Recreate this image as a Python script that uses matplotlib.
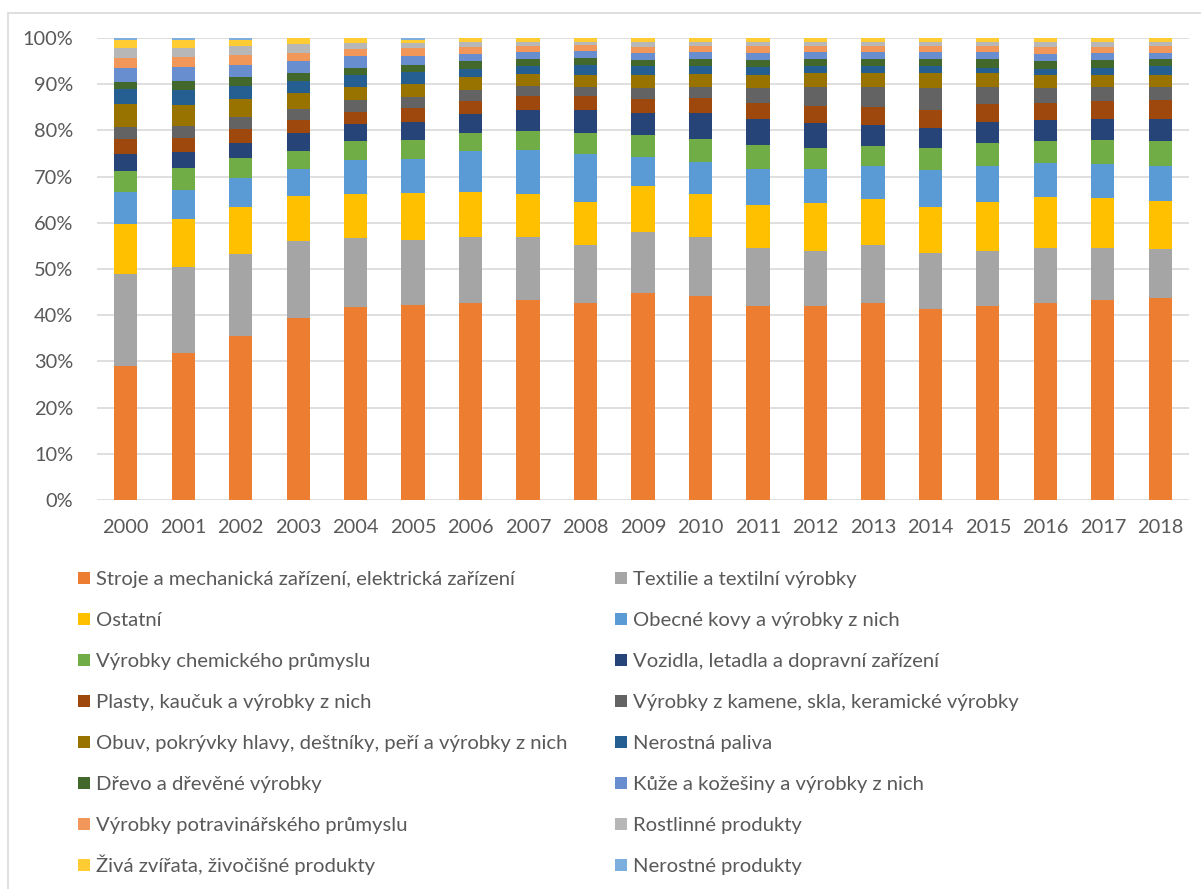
import numpy as np
import matplotlib
matplotlib.use("Agg")
import matplotlib.pyplot as plt
from matplotlib.patches import Rectangle

plt.rcParams['font.family'] = ['Lato', 'DejaVu Sans']

years = [str(y) for y in range(2000, 2019)]

# shares in %, bottom to top of each bar
stroje = [29.1, 31.8, 35.5, 39.3, 41.8, 42.2, 42.6, 43.2, 42.6, 44.7, 44.2, 42.0, 42.0, 42.6, 41.4, 42.0, 42.6, 43.2, 43.8]
textilie = [19.9, 18.6, 17.8, 16.8, 14.9, 14.1, 14.4, 13.8, 12.7, 13.3, 12.8, 12.6, 12.0, 12.5, 12.1, 12.0, 12.0, 11.4, 10.6]
ostatni = [10.8, 10.4, 10.2, 9.7, 9.5, 10.2, 9.6, 9.2, 9.2, 9.9, 9.2, 9.2, 10.3, 10.1, 9.9, 10.5, 11.0, 10.8, 10.3]
kovy = [6.8, 6.2, 6.1, 5.8, 7.5, 7.4, 9.0, 9.5, 10.3, 6.4, 7.0, 7.8, 7.3, 7.0, 8.0, 7.9, 7.3, 7.3, 7.5]
chemie = [4.6, 4.8, 4.4, 4.0, 4.1, 4.1, 3.9, 4.2, 4.6, 4.6, 4.9, 5.2, 4.6, 4.4, 4.7, 4.8, 4.7, 5.2, 5.4]
vozidla = [3.7, 3.5, 3.2, 3.9, 3.6, 3.8, 4.0, 4.5, 5.0, 4.9, 5.6, 5.6, 5.4, 4.6, 4.4, 4.6, 4.6, 4.5, 4.8]
plasty = [3.3, 3.1, 3.1, 2.7, 2.6, 3.1, 2.9, 3.0, 3.0, 3.0, 3.3, 3.6, 3.7, 3.9, 3.9, 3.9, 3.8, 4.0, 4.2]
kamen = [2.6, 2.6, 2.7, 2.5, 2.5, 2.3, 2.4, 2.2, 2.1, 2.4, 2.5, 3.2, 4.2, 4.3, 4.8, 3.8, 3.1, 2.9, 2.9]
obuv = [4.9, 4.5, 3.9, 3.5, 3.0, 2.8, 2.8, 2.6, 2.5, 2.7, 2.7, 2.8, 2.9, 3.0, 3.2, 2.9, 2.9, 2.7, 2.5]
paliva = [3.2, 3.2, 2.7, 2.6, 2.5, 2.6, 1.6, 1.7, 2.2, 2.0, 1.7, 1.7, 1.5, 1.5, 1.5, 1.2, 1.2, 1.6, 1.9]
drevo = [1.6, 2.0, 2.0, 1.6, 1.6, 1.6, 1.9, 1.6, 1.5, 1.4, 1.6, 1.6, 1.6, 1.6, 1.6, 1.9, 1.9, 1.7, 1.6]
kuze = [3.1, 3.1, 2.6, 2.7, 2.4, 1.9, 1.4, 1.5, 1.5, 1.5, 1.5, 1.5, 1.5, 1.4, 1.4, 1.5, 1.4, 1.5, 1.3]
potraviny = [2.1, 2.1, 2.1, 1.7, 1.6, 1.7, 1.6, 1.3, 1.2, 1.2, 1.2, 1.4, 1.2, 1.3, 1.3, 1.2, 1.5, 1.2, 1.4]
rostlinne = [2.1, 1.9, 1.9, 1.8, 1.3, 1.1, 1.0, 0.9, 0.8, 1.2, 1.0, 1.0, 1.0, 0.9, 0.9, 1.0, 1.2, 1.2, 1.0]
ziva = [1.8, 1.8, 1.4, 1.3, 1.0, 0.7, 0.8, 0.7, 0.7, 0.7, 0.7, 0.7, 0.7, 0.8, 0.8, 0.7, 0.7, 0.7, 0.7]
nerostne = [0.4, 0.4, 0.4, 0.1, 0.1, 0.4, 0.1, 0.1, 0.1, 0.1, 0.1, 0.1, 0.1, 0.1, 0.1, 0.1, 0.1, 0.1, 0.1]

labels = [
    "Stroje a mechanická zařízení, elektrická zařízení",
    "Textilie a textilní výrobky",
    "Ostatní",
    "Obecné kovy a výrobky z nich",
    "Výrobky chemického průmyslu",
    "Vozidla, letadla a dopravní zařízení",
    "Plasty, kaučuk a výrobky z nich",
    "Výrobky z kamene, skla, keramické výrobky",
    "Obuv, pokrývky hlavy, deštníky, peří a výrobky z nich",
    "Nerostná paliva",
    "Dřevo a dřevěné výrobky",
    "Kůže a kožešiny a výrobky z nich",
    "Výrobky potravinářského průmyslu",
    "Rostlinné produkty",
    "Živá zvířata, živočišné produkty",
    "Nerostné produkty",
]
colors = ['#ED7D31', '#A5A5A5', '#FFC000', '#5B9BD5', '#70AD47', '#264478',
          '#9E480E', '#636363', '#997300', '#255E91', '#43682B', '#698ED0',
          '#F1975A', '#B7B7B7', '#FFCD33', '#7CAFDD']

series = [stroje, textilie, ostatni, kovy, chemie, vozidla, plasty, kamen,
          obuv, paliva, drevo, kuze, potraviny, rostlinne, ziva, nerostne]

data = np.array(series, dtype=float)
data = data / data.sum(axis=0) * 100

text_col = '#595959'
grid_col = '#d9d9d9'
W, H = 1201, 889

fig = plt.figure(figsize=(W / 100, H / 100), dpi=100)
ax = fig.add_axes([97 / W, 389 / H, 1092 / W, 462 / H])

x = np.arange(len(years))
bottom = np.zeros(len(years))
for vals, lab, col in zip(data, labels, colors):
    ax.bar(x, vals, width=0.405, bottom=bottom, color=col, label=lab, zorder=3)
    bottom += vals

ax.set_xlim(-0.5, len(years) - 0.5)
ax.set_ylim(0, 100)
ax.set_yticks(range(0, 101, 10))
ax.set_yticklabels([f"{v}%" for v in range(0, 101, 10)])
ax.set_xticks(x)
ax.set_xticklabels(years)
ax.tick_params(axis='both', length=0, labelsize=14.4, colors=text_col)
ax.tick_params(axis='y', pad=17)
ax.tick_params(axis='x', pad=13.5)
ax.grid(axis='y', color=grid_col, linewidth=1.2, zorder=0)
for s in ax.spines.values():
    s.set_visible(False)

# outer chart frame
fig.patches.append(Rectangle((7.5 / W, -0.05), 1.2, (H - 12.5) / H + 0.05,
                             transform=fig.transFigure, fill=False,
                             edgecolor=grid_col, linewidth=1.2))

# legend: two columns, filled row by row
col_x = [78, 615]
for i, (lab, col) in enumerate(zip(labels, colors)):
    row, c = divmod(i, 2)
    mx = col_x[c]
    cy = 578 + 41 * row
    fig.patches.append(Rectangle((mx / W, 1 - (cy + 6) / H), 12 / W, 12 / H,
                                 transform=fig.transFigure, facecolor=col,
                                 edgecolor='none'))
    fig.text((mx + 18) / W, 1 - (cy + 7) / H, lab, fontsize=14.6,
             color=text_col, ha='left', va='baseline')

fig.savefig('out.png', dpi=100)
